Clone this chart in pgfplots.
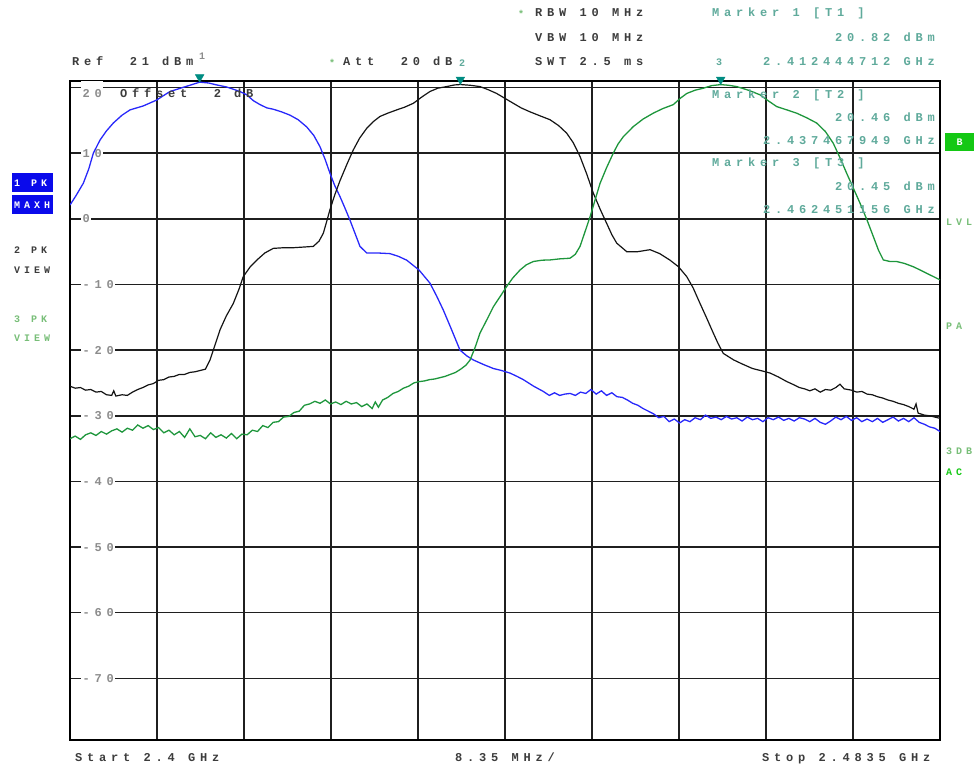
\documentclass[border=0pt]{standalone}
\usepackage{pgfplots}
\pgfplotsset{compat=1.18}
\usepackage{fontspec}
\setmainfont{Liberation Sans}
\newfontfamily\rsfamily[LetterSpace=40, WordSpace=1.1]{Liberation Mono Bold}
\newcommand\rs{\rsfamily\fontsize{12pt}{14pt}\selectfont}
\newcommand\rssmall{\rsfamily\fontsize{10pt}{12pt}\selectfont}

\definecolor{traceA}{RGB}{40,40,250}
\definecolor{traceB}{RGB}{20,20,20}
\definecolor{traceC}{RGB}{30,150,60}
\definecolor{mkrtext}{RGB}{95,170,155}
\definecolor{mkrsym}{RGB}{0,140,130}
\definecolor{lblgray}{RGB}{140,140,140}
\definecolor{hdrgray}{RGB}{60,60,60}
\definecolor{pkblue}{RGB}{10,10,235}
\definecolor{stgreen}{RGB}{120,190,120}
\definecolor{boxgreen}{RGB}{20,200,20}

\begin{document}
\begin{tikzpicture}

\begin{axis}[
  at={(70pt,-740pt)}, anchor=south west,
  width=870pt, height=659pt, scale only axis,
  set layers, clip mode=individual,
  xmin=2400, xmax=2483.5, ymin=-79.4, ymax=21,
  xtick={2408.35,2416.70,2425.05,2433.40,2441.75,2450.10,2458.45,2466.80,2475.15},
  xticklabels={},
  ytick={20,10,0,-10,-20,-30,-40,-50,-60,-70},
  yticklabels={\raisebox{-6pt}[9pt][7pt]{20},10,0,-10,-20,-30,-40,-50,-60,-70},
  major tick length=0pt,
  grid=major,
  major grid style={draw=black!88, line width=1.6pt},
  axis line style={line width=2.8pt, draw=black},
  yticklabel style={font=\rs, text=lblgray, fill=white, inner sep=1.5pt,
                    anchor=base west, xshift=11pt, yshift=-4pt},
]

% trace 1: max hold, channel at 2412 MHz
\addplot[traceA, line width=1.3pt] coordinates {
(2400.00,2.1) (2400.6,3.6) (2401.28,5.43) (2401.8,7.6) (2402.24,10.0) (2402.88,12.0)
(2403.5,13.4) (2404.16,14.6) (2405.0,15.8) (2405.76,16.6) (2407.03,17.2) (2408.32,18.1)
(2409.0,18.8) (2409.6,19.4) (2410.4,19.8) (2411.2,20.2) (2412.444712,20.82) (2413.3,20.7)
(2414.08,20.4) (2415.0,20.1) (2415.67,19.75) (2416.3,19.4) (2416.96,18.9) (2417.6,18.0)
(2418.24,17.4) (2418.9,16.9) (2419.51,16.7) (2420.3,16.3) (2421.11,15.8) (2421.9,15.1)
(2422.72,14.0) (2423.4,12.7) (2423.99,11.0) (2424.5,9.0) (2424.95,6.95) (2425.4,5.1)
(2425.91,3.4) (2426.4,1.6) (2426.87,-0.2) (2427.4,-2.4) (2427.83,-4.2) (2428.48,-5.2)
(2429.5,-5.2) (2430.71,-5.3) (2431.5,-5.7) (2432.32,-6.3) (2433.5,-7.8) (2434.55,-9.8)
(2435.2,-11.8) (2435.83,-13.9) (2436.6,-16.8) (2437.43,-20.0) (2438.1,-20.9) (2438.71,-21.5)
(2439.7,-22.2) (2440.63,-22.8) (2441.4,-23.1) (2442.23,-23.5) (2442.9,-24.0) (2443.51,-24.5)
(2444.5,-25.5) (2445.43,-26.3) (2446.0,-26.9) (2446.5,-26.5) (2447.0,-26.9) (2447.5,-26.7)
(2448.0,-26.6) (2448.5,-26.9) (2449.0,-26.4) (2449.5,-26.6) (2450.0,-26.0) (2450.5,-26.7)
(2451.0,-26.2) (2451.5,-26.9) (2452.0,-26.5) (2452.5,-27.1) (2453.0,-27.2) (2453.5,-27.6)
(2454.0,-28.1) (2454.5,-28.4) (2455.0,-28.9) (2455.5,-29.3) (2456.0,-29.7) (2456.5,-30.3)
(2457.0,-30.1) (2457.5,-30.9) (2458.0,-30.5) (2458.5,-31.1) (2459.0,-30.6) (2459.5,-30.9)
(2460.0,-30.3) (2460.5,-30.6) (2461.0,-29.9) (2461.5,-30.4) (2462.0,-30.2) (2462.5,-30.6)
(2463.0,-30.1) (2463.5,-30.5) (2464.0,-30.3) (2464.5,-30.8) (2465.0,-30.2) (2465.5,-30.6)
(2466.0,-30.4) (2466.5,-30.9) (2467.0,-30.3) (2467.5,-30.6) (2468.0,-30.2) (2468.5,-30.7)
(2469.0,-30.4) (2469.5,-30.8) (2470.0,-30.3) (2470.5,-30.5) (2471.0,-30.9) (2471.5,-30.4)
(2472.0,-31.0) (2472.5,-31.3) (2473.0,-30.8) (2473.5,-30.2) (2474.0,-30.6) (2474.5,-30.1)
(2475.0,-30.7) (2475.5,-30.3) (2476.0,-30.9) (2476.5,-30.5) (2477.0,-30.9) (2477.5,-30.4)
(2478.0,-31.0) (2478.5,-30.6) (2479.0,-30.2) (2479.5,-30.8) (2480.0,-30.4) (2480.5,-30.9)
(2481.0,-30.3) (2481.5,-31.0) (2482.0,-31.3) (2482.5,-31.7) (2483.0,-31.9) (2483.5,-32.4)
};

% trace 2: view, channel at 2437 MHz
\addplot[traceB, line width=1.2pt] coordinates {
(2400.0,-25.5) (2400.5,-25.8) (2401.0,-25.7) (2401.5,-26.1) (2402.0,-26.0) (2402.5,-26.4)
(2403.0,-26.3) (2403.5,-26.8) (2404.0,-26.9) (2404.2,-26.2) (2404.4,-27.0) (2405.0,-26.8)
(2405.5,-26.9) (2406.0,-26.4) (2406.5,-26.0) (2407.0,-25.7) (2407.5,-25.3) (2408.0,-25.1)
(2408.5,-24.6) (2409.0,-24.5) (2409.5,-24.1) (2410.0,-24.0) (2410.5,-23.7) (2411.0,-23.7)
(2411.5,-23.4) (2412.0,-23.3) (2412.5,-23.1) (2413.0,-22.9) (2413.44,-21.5) (2413.9,-19.3)
(2414.4,-16.9) (2415.0,-14.8) (2415.67,-12.9) (2416.2,-10.8) (2416.63,-8.8) (2417.3,-7.3)
(2417.92,-6.3) (2418.7,-5.2) (2419.51,-4.5) (2420.5,-4.4) (2421.43,-4.4) (2422.4,-4.3)
(2423.35,-4.2) (2423.9,-3.4) (2424.31,-2.2) (2424.6,-0.6) (2424.95,1.4) (2425.4,3.6)
(2425.91,5.8) (2426.6,8.4) (2427.19,10.5) (2427.8,12.3) (2428.48,13.8) (2429.1,14.8)
(2429.75,15.6) (2430.5,16.1) (2431.36,16.6) (2432.1,17.0) (2432.95,17.6) (2433.8,18.6)
(2434.55,19.4) (2435.3,19.9) (2436.15,20.15) (2436.9,20.4) (2437.467949,20.46) (2438.4,20.35)
(2439.35,20.15) (2440.1,19.7) (2440.95,19.1) (2441.8,18.3) (2442.55,17.6) (2443.3,16.9)
(2444.15,16.3) (2445.1,15.7) (2446.07,15.1) (2446.9,14.2) (2447.67,13.05) (2448.3,11.6)
(2448.95,9.5) (2449.6,6.8) (2450.23,3.9) (2450.9,1.4) (2451.51,-0.7) (2452.0,-2.4)
(2452.47,-3.7) (2453.43,-5.0) (2454.5,-5.0) (2455.67,-4.7) (2456.6,-5.3) (2457.59,-6.3)
(2458.4,-7.3) (2459.19,-8.8) (2459.8,-10.5) (2460.47,-12.9) (2461.1,-15.1) (2461.74,-17.4)
(2462.2,-19.0) (2462.7,-20.5) (2463.7,-21.5) (2464.5,-22.1) (2465.5,-22.8) (2466.5,-23.2)
(2467.2,-23.5) (2468.0,-24.1) (2468.8,-24.8) (2469.5,-25.3) (2470.0,-25.7) (2470.5,-25.9)
(2471.0,-26.2) (2471.5,-25.9) (2472.0,-26.4) (2472.5,-26.0) (2473.0,-26.1) (2473.5,-25.7)
(2473.9,-25.2) (2474.3,-25.9) (2475.0,-26.1) (2475.5,-26.4) (2476.0,-26.3) (2476.5,-26.7)
(2477.0,-26.8) (2477.5,-27.1) (2478.0,-27.3) (2478.5,-27.6) (2479.0,-27.8) (2479.5,-28.1)
(2480.0,-28.3) (2480.5,-28.6) (2481.0,-29.0) (2481.2,-28.2) (2481.4,-29.6) (2482.0,-29.9)
(2482.5,-30.0) (2483.0,-30.2) (2483.5,-30.4)
};

% trace 3: view, channel at 2462 MHz
\addplot[traceC, line width=1.3pt] coordinates {
(2400.0,-33.5) (2400.5,-33.1) (2401.0,-33.6) (2401.5,-32.9) (2402.0,-32.6) (2402.5,-33.0)
(2403.0,-32.4) (2403.5,-32.8) (2404.0,-32.3) (2404.5,-32.0) (2405.0,-32.5) (2405.5,-31.9)
(2406.0,-32.2) (2406.5,-31.4) (2407.0,-31.9) (2407.5,-31.5) (2408.0,-32.1) (2408.5,-31.8)
(2409.0,-32.6) (2409.5,-32.2) (2410.0,-32.9) (2410.5,-32.4) (2411.0,-33.3) (2411.5,-32.0)
(2412.0,-33.2) (2412.5,-33.0) (2413.0,-33.5) (2413.5,-32.6) (2414.0,-33.3) (2414.5,-32.9)
(2415.0,-33.4) (2415.5,-32.7) (2416.0,-33.5) (2416.5,-32.8) (2417.0,-32.9) (2417.5,-32.2)
(2418.0,-32.4) (2418.5,-31.5) (2419.0,-31.8) (2419.5,-31.0) (2420.0,-30.9) (2420.5,-30.2)
(2421.0,-30.1) (2421.5,-29.5) (2422.0,-29.3) (2422.5,-28.4) (2423.0,-28.2) (2423.5,-27.8)
(2424.0,-28.1) (2424.5,-27.6) (2425.0,-28.2) (2425.5,-27.9) (2426.0,-28.3) (2426.5,-27.8)
(2427.0,-28.2) (2427.5,-28.0) (2428.0,-28.6) (2428.5,-28.2) (2429.0,-28.9) (2429.3,-27.9)
(2429.6,-28.7) (2430.0,-27.6) (2430.5,-27.2) (2431.0,-26.6) (2431.5,-26.3) (2432.0,-25.8)
(2432.5,-25.5) (2433.0,-25.0) (2433.5,-24.8) (2434.0,-24.7) (2434.5,-24.5) (2435.0,-24.4)
(2435.5,-24.2) (2436.0,-24.0) (2436.5,-23.7) (2437.0,-23.4) (2437.5,-22.9) (2438.0,-22.3)
(2438.4,-21.5) (2438.9,-19.5) (2439.35,-17.4) (2440.0,-15.4) (2440.63,-13.4) (2441.3,-11.8)
(2441.91,-10.3) (2442.5,-9.0) (2443.19,-7.8) (2443.8,-7.0) (2444.47,-6.5) (2445.3,-6.3)
(2446.07,-6.26) (2447.0,-6.1) (2447.99,-6.0) (2448.5,-5.4) (2448.95,-4.2) (2449.4,-2.1)
(2449.91,0.3) (2450.4,2.9) (2450.87,5.4) (2451.5,7.8) (2452.14,10.0) (2452.6,11.4)
(2453.1,12.5) (2454.06,14.05) (2455.0,15.2) (2455.98,16.1) (2456.9,16.8) (2457.9,17.4)
(2458.6,18.4) (2459.19,19.1) (2460.0,19.6) (2460.78,19.9) (2461.6,20.3) (2462.451156,20.45)
(2463.2,20.35) (2463.99,20.15) (2465.1,19.6) (2466.22,18.9) (2467.0,18.0) (2467.83,17.1)
(2468.8,16.6) (2469.74,16.1) (2470.7,15.4) (2471.66,14.6) (2472.5,13.3) (2473.26,11.5)
(2473.9,9.3) (2474.54,6.95) (2475.2,4.6) (2475.82,2.4) (2476.5,-0.2) (2477.1,-2.7)
(2477.6,-4.8) (2478.06,-6.26) (2478.7,-6.5) (2479.34,-6.5) (2480.1,-6.8) (2480.94,-7.3)
(2481.6,-7.8) (2482.22,-8.3) (2483.0,-8.9) (2483.5,-9.3)
};

% peak markers M1, M2, M3 (tip on the trace point)
\addplot[only marks, mark=triangle*, mark size=5pt, color=mkrsym,
         mark options={yshift=5pt, rotate=180}] coordinates {
(2412.444712,20.82) (2437.467949,20.46) (2462.451156,20.45)
};
\end{axis}

\begin{scope}[x=1pt, y=-1pt, every node/.style={inner sep=0pt}]
% header
\node[anchor=base west, text=hdrgray, font=\rs] at (72,66) {Ref\ \ 21\ dBm};
\node[anchor=base west, text=lblgray, font=\rssmall] at (199,60) {1};
\node[anchor=base west, text=stgreen, font=\rssmall] at (329,67) {*};
\node[anchor=base west, text=hdrgray, font=\rs] at (343,66) {Att\ \ 20\ dB};
\node[anchor=base west, text=mkrtext, font=\rssmall] at (459,67) {2};
\node[anchor=base west, text=stgreen, font=\rssmall] at (518,18) {*};
\node[anchor=base west, text=hdrgray, font=\rs] at (535,17) {RBW 10 MHz};
\node[anchor=base west, text=hdrgray, font=\rs] at (535,42) {VBW 10 MHz};
\node[anchor=base west, text=hdrgray, font=\rs] at (535,66) {SWT 2.5 ms};
% marker readouts
\node[anchor=base west, text=mkrtext, font=\rs] at (712,17) {Marker 1 [T1 ]};
\node[anchor=base east, text=mkrtext, font=\rs] at (935,42) {20.82 dBm};
\node[anchor=base east, text=mkrtext, font=\rs] at (935,66) {2.412444712 GHz};
\node[anchor=base west, text=mkrtext, font=\rssmall] at (716,66) {3};
\node[anchor=base west, text=mkrtext, font=\rs] at (712,99) {Marker 2 [T2 ]};
\node[anchor=base east, text=mkrtext, font=\rs] at (935,122) {20.46 dBm};
\node[anchor=base east, text=mkrtext, font=\rs] at (935,145) {2.437467949 GHz};
\node[anchor=base west, text=mkrtext, font=\rs] at (712,167) {Marker 3 [T3 ]};
\node[anchor=base east, text=mkrtext, font=\rs] at (935,191) {20.45 dBm};
\node[anchor=base east, text=mkrtext, font=\rs] at (935,214) {2.462451156 GHz};
\node[anchor=base west, text=hdrgray, font=\rs] at (120,98) {Offset\ \ 2\ dB};
% trace status, left
\fill[pkblue] (12,173) rectangle (53,192);
\fill[pkblue] (12,195) rectangle (53,214);
\node[anchor=base west, text=white, font=\rssmall] at (14,187) {1 PK};
\node[anchor=base west, text=white, font=\rssmall] at (14,209) {MAXH};
\node[anchor=base west, text=hdrgray, font=\rssmall] at (14,254) {2 PK};
\node[anchor=base west, text=hdrgray, font=\rssmall] at (14,274) {VIEW};
\node[anchor=base west, text=stgreen, font=\rssmall] at (14,322) {3 PK};
\node[anchor=base west, text=stgreen, font=\rssmall] at (14,341) {VIEW};
% status, right
\fill[boxgreen] (945,133) rectangle (974,151);
\node[anchor=base, text=white, font=\rssmall] at (959.5,146) {B};
\node[anchor=base west, text=stgreen, font=\rssmall] at (946,226) {LVL};
\node[anchor=base west, text=stgreen, font=\rssmall] at (946,329) {PA};
\node[anchor=base west, text=stgreen, font=\rssmall] at (946,454) {3DB};
\node[anchor=base west, text=boxgreen, font=\rssmall] at (946,475) {AC};
% span readout
\node[anchor=base west, text=hdrgray, font=\rs] at (75,761) {Start 2.4 GHz};
\node[anchor=base west, text=hdrgray, font=\rs] at (455,761) {8.35 MHz/};
\node[anchor=base west, text=hdrgray, font=\rs] at (762,761) {Stop 2.4835 GHz};
% page extent
\path (0,0) rectangle (974,767);
\end{scope}
\end{tikzpicture}
\end{document}
